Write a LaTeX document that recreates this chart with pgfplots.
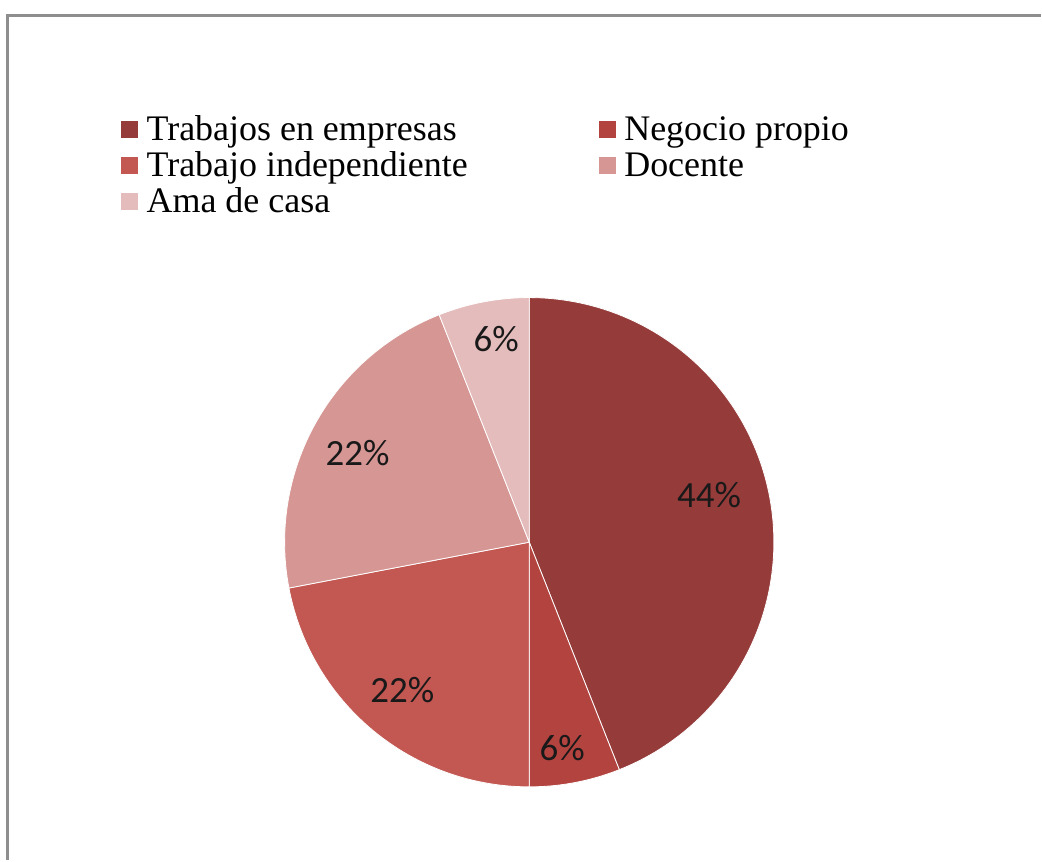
\documentclass[border=0pt]{standalone}
\usepackage{fontspec}
\setmainfont{Liberation Serif}
\newfontfamily\carlito{Carlito}
\usepackage{pgfplots}
\pgfplotsset{compat=1.18}
\definecolor{c1}{HTML}{953B3A}
\definecolor{c2}{HTML}{B3433F}
\definecolor{c3}{HTML}{C35752}
\definecolor{c4}{HTML}{D69694}
\definecolor{c5}{HTML}{E4BCBB}
\definecolor{frame}{HTML}{8E8E8E}
\begin{document}
\begin{tikzpicture}
\begin{axis}[
  scale only axis, width=521pt, height=430.5pt,
  xmin=0, xmax=1042, ymin=0, ymax=861,
  hide axis, clip=false,
  legend columns=2,
  legend cell align=left,
  legend image code/.code={\fill[#1] (0pt,-3pt) rectangle (9pt,6pt);},
  legend style={draw=none, fill=none, at={(axis cs:120,744)}, anchor=north west,
    inner sep=0pt, outer sep=0pt, font=\fontsize{18}{20}\selectfont,
    nodes={inner sep=0pt, text height=12pt, text depth=4pt},
    row sep=2pt,
    /tikz/column 1/.style={column sep=4pt},
    /tikz/column 2/.style={column sep=65pt},
    /tikz/column 3/.style={column sep=4pt}},
]
\path (axis cs:0,0) rectangle (axis cs:1042,861);
\draw[frame, line width=1.5pt] (axis cs:7.5,0) -- (axis cs:7.5,845.5) -- (axis cs:1042,845.5);
% percentages: 44, 6, 22, 22, 6 (clockwise from 12 o'clock)
\addplot[fill=c1, draw=white, line width=0.4pt, domain={90-3.6*44}:{90}, samples=120, variable=\t]
  ({530+245*cos(t)}, {318+245*sin(t)}) -- (axis cs:530,318) -- cycle;
\addlegendentry{Trabajos en empresas}
\addplot[fill=c2, draw=white, line width=0.4pt, domain={90-3.6*50}:{90-3.6*44}, samples=30, variable=\t]
  ({530+245*cos(t)}, {318+245*sin(t)}) -- (axis cs:530,318) -- cycle;
\addlegendentry{Negocio propio}
\addplot[fill=c3, draw=white, line width=0.4pt, domain={90-3.6*72}:{90-3.6*50}, samples=60, variable=\t]
  ({530+245*cos(t)}, {318+245*sin(t)}) -- (axis cs:530,318) -- cycle;
\addlegendentry{Trabajo independiente}
\addplot[fill=c4, draw=white, line width=0.4pt, domain={90-3.6*94}:{90-3.6*72}, samples=60, variable=\t]
  ({530+245*cos(t)}, {318+245*sin(t)}) -- (axis cs:530,318) -- cycle;
\addlegendentry{Docente}
\addplot[fill=c5, draw=white, line width=0.4pt, domain={90-3.6*100}:{90-3.6*94}, samples=30, variable=\t]
  ({530+245*cos(t)}, {318+245*sin(t)}) -- (axis cs:530,318) -- cycle;
\addlegendentry{Ama de casa}
\begin{scope}[every node/.style={font=\carlito\fontsize{18.5}{20}\selectfont, text=black!90}]
\node at (axis cs:710,365) {44\%};
\node at (axis cs:563,112) {6\%};
\node at (axis cs:403,170) {22\%};
\node at (axis cs:358,407) {22\%};
\node at (axis cs:497,521) {6\%};
\end{scope}
\end{axis}
\end{tikzpicture}
\end{document}
